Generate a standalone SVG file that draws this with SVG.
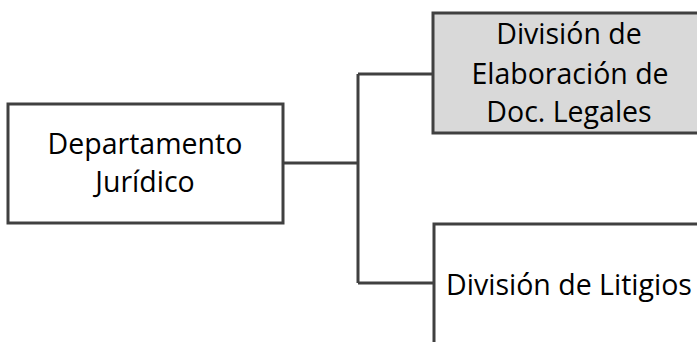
<svg xmlns="http://www.w3.org/2000/svg" width="697" height="342" viewBox="0 0 697 342">
<style>
.box{stroke:#404040;stroke-width:3}
.t{font-family:"Open Sans","Liberation Sans",sans-serif;font-size:28.5px;fill:#000;text-anchor:middle}
.c{fill:none;stroke:#404040;stroke-width:3}
</style>
<rect width="697" height="342" fill="#fff"/>
<g id="connectors">
<path class="c" d="M283 163 H358 M358 74 V283 M358 74 H433 M358 283 H434"/>
</g>
<g id="dept">
<rect class="box" x="8" y="104" width="275" height="119" fill="#fff"/>
<text class="t" x="145" y="154">Departamento</text>
<text class="t" x="145" y="192">Jurídico</text>
</g>
<g id="elab">
<rect class="box" x="433" y="13" width="290" height="120" fill="#d9d9d9"/>
<text class="t" x="569" y="44">División de</text>
<text class="t" x="570" y="84">Elaboración de</text>
<text class="t" x="569" y="122">Doc. Legales</text>
</g>
<g id="litig">
<rect class="box" x="434" y="224" width="290" height="140" fill="#fff"/>
<text class="t" x="569" y="295">División de Litigios</text>
</g>
</svg>
